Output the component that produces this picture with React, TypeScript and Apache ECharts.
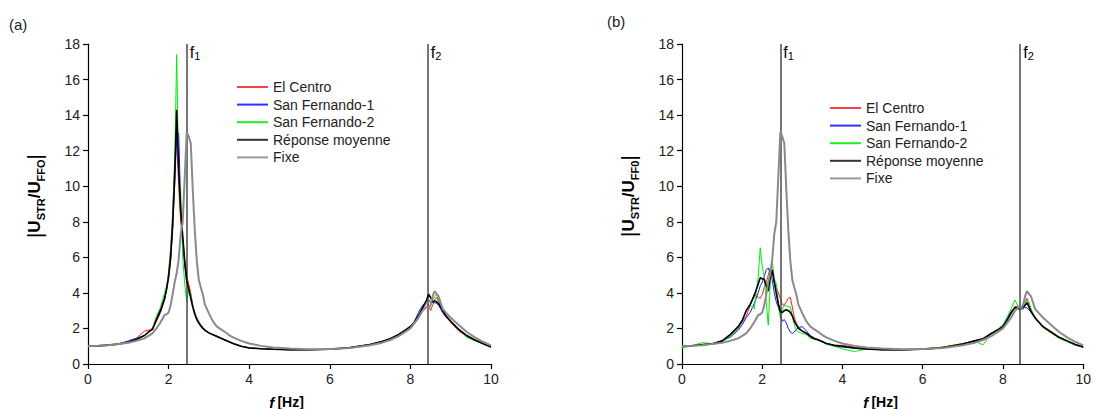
import React, { useEffect, useRef } from "react";
import * as echarts from "echarts";

// Frequency grid (Hz)
const freq = [
  0, 0.25, 0.5, 0.75, 1.0, 1.2, 1.4, 1.5, 1.6, 1.7,
  1.8, 1.9, 1.95, 2.0, 2.05, 2.1, 2.15, 2.2, 2.25, 2.3,
  2.35, 2.4, 2.45, 2.5, 2.55, 2.6, 2.65, 2.7, 2.75, 2.8,
  2.85, 2.9, 3.0, 3.1, 3.2, 3.3, 3.4, 3.5, 3.6, 3.8,
  4.0, 4.3, 4.6, 5.0, 5.5, 6.0, 6.5, 7.0, 7.3, 7.5,
  7.7, 7.9, 8.0, 8.1, 8.2, 8.3, 8.4, 8.45, 8.5, 8.55,
  8.6, 8.65, 8.7, 8.8, 8.9, 9.0, 9.2, 9.4, 9.6, 9.8, 10.0,
];

// Fixed-base response (same in both panels)
const fixe = [
  1.0, 1.02, 1.06, 1.12, 1.2, 1.3, 1.44, 1.58, 1.72, 2.0,
  2.35, 2.75, 2.8, 2.9, 3.3, 3.9, 4.6, 5.1, 5.9, 7.3,
  8.0, 10.5, 13.05, 12.8, 12.4, 9.8, 7.5, 5.8, 4.72, 4.3,
  3.9, 3.35, 2.85, 2.4, 2.1, 1.95, 1.8, 1.63, 1.5, 1.3,
  1.15, 1.02, 0.93, 0.87, 0.83, 0.84, 0.9, 1.05, 1.2, 1.35,
  1.55, 1.85, 2.0, 2.3, 2.6, 3.0, 3.2, 3.15, 3.3, 3.8,
  4.1, 3.95, 3.8, 3.1, 2.85, 2.6, 2.2, 1.8, 1.5, 1.25, 1.05,
];

// Panel (a)
const aElCentro = [
  1.0, 1.02, 1.06, 1.12, 1.25, 1.45, 1.85, 1.9, 2.0, 2.4,
  2.9, 3.6, 4.3, 5.2, 6.5, 8.5, 11.5, 12.6, 10.0, 8.0,
  7.0, 5.8, 4.9, 4.5, 4.0, 3.3, 2.9, 2.6, 2.4, 2.2,
  2.05, 1.95, 1.75, 1.65, 1.58, 1.45, 1.35, 1.25, 1.15, 1.0,
  0.92, 0.86, 0.82, 0.8, 0.8, 0.84, 0.92, 1.1, 1.28, 1.45,
  1.6, 1.9, 2.05, 2.3, 2.75, 3.1, 3.4, 3.3, 3.0, 3.3,
  3.6, 3.75, 3.5, 2.9, 2.6, 2.35, 1.85, 1.55, 1.35, 1.12, 0.95,
];
const aSanFernando1 = [
  1.0, 1.02, 1.06, 1.12, 1.3, 1.45, 1.6, 1.8, 1.95, 2.6,
  3.1, 3.6, 4.2, 4.9, 5.8, 7.6, 10.0, 12.8, 13.0, 9.0,
  7.0, 5.5, 4.6, 4.2, 3.8, 3.3, 2.8, 2.5, 2.3, 2.1,
  2.0, 1.9, 1.75, 1.65, 1.55, 1.45, 1.35, 1.25, 1.15, 1.0,
  0.9, 0.86, 0.83, 0.8, 0.8, 0.82, 0.92, 1.1, 1.27, 1.42,
  1.65, 1.95, 2.1, 2.4, 2.9, 3.3, 3.5, 3.6, 3.5, 3.45,
  3.45, 3.4, 3.3, 2.9, 2.6, 2.4, 1.95, 1.55, 1.35, 1.15, 0.95,
];
const aSanFernando2 = [
  1.0, 1.02, 1.06, 1.12, 1.22, 1.4, 1.6, 1.8, 2.0, 2.7,
  3.2, 4.0, 4.4, 5.0, 6.2, 8.0, 11.0, 17.4, 10.5, 9.8,
  6.0, 4.5, 3.5, 4.2, 3.9, 3.3, 2.85, 2.5, 2.3, 2.15,
  2.0, 1.9, 1.75, 1.65, 1.55, 1.45, 1.35, 1.25, 1.15, 1.0,
  0.9, 0.86, 0.83, 0.8, 0.8, 0.83, 0.92, 1.1, 1.27, 1.42,
  1.62, 1.98, 2.15, 2.35, 2.75, 3.2, 3.55, 3.6, 3.4, 3.6,
  3.8, 3.9, 3.6, 3.0, 2.7, 2.4, 1.95, 1.5, 1.3, 1.15, 0.95,
];
const aMoyenne = [
  1.0, 1.02, 1.06, 1.12, 1.22, 1.38, 1.6, 1.8, 1.95, 2.5,
  3.0, 3.7, 4.2, 4.9, 6.0, 7.8, 10.5, 14.3, 11.0, 8.6,
  7.2, 5.8, 4.7, 4.2, 3.7, 3.2, 2.8, 2.5, 2.3, 2.15,
  2.0, 1.9, 1.75, 1.65, 1.55, 1.45, 1.35, 1.25, 1.15, 1.0,
  0.9, 0.86, 0.83, 0.8, 0.8, 0.83, 0.92, 1.1, 1.27, 1.42,
  1.65, 1.95, 2.1, 2.35, 2.7, 3.15, 3.6, 3.92, 3.75, 3.5,
  3.55, 3.5, 3.4, 3.0, 2.66, 2.4, 1.95, 1.6, 1.35, 1.15, 0.95,
];

// Panel (b)
const bElCentro = [
  1.0, 1.04, 1.1, 1.15, 1.3, 1.6, 2.0, 2.35, 2.7, 3.3,
  3.94, 3.75, 3.7, 3.9, 4.3, 4.6, 5.0, 5.4, 5.1, 4.6,
  4.3, 4.0, 3.7, 3.35, 3.3, 3.5, 3.7, 3.75, 3.2, 2.6,
  2.3, 2.1, 1.85, 1.75, 1.55, 1.45, 1.38, 1.28, 1.15, 1.05,
  1.05, 0.95, 0.85, 0.8, 0.78, 0.85, 0.95, 1.15, 1.3, 1.45,
  1.72, 2.0, 2.2, 2.55, 2.95, 3.2, 3.25, 3.2, 3.35, 3.5,
  3.7, 3.3, 3.0, 2.55, 2.3, 2.05, 1.75, 1.48, 1.28, 1.1, 0.95,
];
const bSanFernando1 = [
  1.0, 1.03, 1.07, 1.12, 1.3, 1.5, 1.9, 2.2, 2.6, 2.9,
  3.4, 4.0, 4.4, 4.6, 4.9, 5.3, 5.4, 5.1, 4.72, 4.0,
  3.5, 3.2, 2.8, 2.4, 2.5, 2.3, 2.0, 1.8, 1.72, 1.8,
  1.95, 2.05, 2.1, 1.85, 1.6, 1.45, 1.35, 1.25, 1.15, 1.0,
  0.95, 0.88, 0.82, 0.8, 0.8, 0.82, 0.9, 1.1, 1.32, 1.4,
  1.72, 1.98, 2.1, 2.6, 2.95, 3.15, 3.1, 3.05, 3.1, 3.2,
  3.15, 3.05, 2.9, 2.6, 2.3, 2.1, 1.8, 1.5, 1.3, 1.1, 0.95,
];
const bSanFernando2 = [
  0.9, 1.02, 1.2, 1.15, 1.25, 1.55, 2.0, 2.4, 3.0, 3.3,
  3.1, 4.9, 6.54, 5.5, 4.9, 3.5, 2.19, 4.5, 5.76, 4.8,
  4.5, 3.5, 2.6, 3.1, 3.3, 3.25, 3.25, 3.2, 2.7, 2.2,
  1.9, 1.8, 1.72, 1.65, 1.45, 1.4, 1.35, 1.25, 1.1, 1.0,
  0.85, 0.7, 0.85, 0.8, 0.82, 0.85, 0.95, 1.15, 1.3, 1.07,
  1.7, 2.0, 2.2, 2.6, 3.1, 3.6, 3.1, 3.04, 3.2, 3.4,
  3.6, 3.45, 3.1, 2.6, 2.3, 2.05, 1.75, 1.45, 1.25, 1.05, 0.95,
];
const bMoyenne = [
  1.0, 1.03, 1.08, 1.13, 1.3, 1.65, 2.1, 2.45, 3.0, 3.35,
  3.85, 4.5, 4.85, 4.8, 4.75, 4.4, 4.1, 4.9, 5.3, 4.6,
  3.97, 3.4, 2.95, 2.9, 3.0, 3.05, 3.0, 2.9, 2.7, 2.4,
  2.2, 2.0, 1.85, 1.72, 1.55, 1.42, 1.35, 1.25, 1.15, 1.05,
  1.0, 0.9, 0.85, 0.8, 0.8, 0.83, 0.93, 1.12, 1.3, 1.4,
  1.7, 1.95, 2.1, 2.45, 2.85, 3.2, 3.1, 3.15, 3.2, 3.3,
  3.45, 3.2, 2.95, 2.6, 2.35, 2.1, 1.8, 1.5, 1.3, 1.1, 0.95,
];

const seriesNames = ["El Centro", "San Fernando-1", "San Fernando-2", "Réponse moyenne", "Fixe"];
const seriesColors = ["#ff1a1a", "#1a1aff", "#00ee00", "#000000", "#8a8a8a"];
const legendColors = ["#ff4040", "#3030ff", "#20ee20", "#333333", "#999999"];
const seriesWidths = [1, 1, 1, 1.6, 2];
const F1 = 2.45;
const F2 = 8.43;
const xTicks = { min: 0, max: 10, interval: 2 };
const yTicks = { min: 0, max: 18, interval: 2 };

const FONT = "'Liberation Sans', Arial, sans-serif";

export default function App() {
  const ref = useRef<HTMLDivElement>(null);
  useEffect(() => {
    if (!ref.current) return;
    const chart = echarts.init(ref.current, undefined, { renderer: "svg" });
    const panels = [
      [aElCentro, aSanFernando1, aSanFernando2, aMoyenne, fixe],
      [bElCentro, bSanFernando1, bSanFernando2, bMoyenne, fixe],
    ];
    const grids = [
      { left: 88, top: 44, width: 403, height: 320 },
      { left: 682, top: 44, width: 403, height: 320 },
    ];
    const axisCommon = {
      axisLine: { show: true, lineStyle: { color: "#000", width: 1.2 } },
      axisTick: { show: true, length: 5, lineStyle: { color: "#000", width: 1.2 } },
      axisLabel: { fontSize: 14, color: "#222", margin: 8, fontFamily: FONT },
      splitLine: { show: false },
    };
    const series: any[] = [];
    panels.forEach((arrs, p) => {
      arrs.forEach((arr, k) => {
        const s: any = {
          name: seriesNames[k],
          type: "line",
          xAxisIndex: p,
          yAxisIndex: p,
          symbol: "none",
          showSymbol: false,
          data: freq.map((f, i) => [f, arr[i]]),
          lineStyle: { color: seriesColors[k], width: seriesWidths[k] },
          itemStyle: { color: legendColors[k] },
          z: 2 + k,
        };
        if (k === 0) {
          s.markLine = {
            silent: true,
            symbol: ["none", "none"],
            label: { show: false },
            lineStyle: { color: "#4a4a4a", width: 1.5, type: "solid" },
            data: [{ xAxis: F1 }, { xAxis: F2 }],
          };
        }
        series.push(s);
      });
    });
    const legendCommon = {
      orient: "vertical",
      icon: "rect",
      padding: 0,
      itemWidth: 31,
      itemHeight: 2,
      itemGap: 3.6,
      itemTextGap: 6,
      textStyle: { fontSize: 14, color: "#222", fontFamily: FONT, lineHeight: 14 },
      data: seriesNames,
      selectedMode: false,
    };
    chart.setOption({
      animation: false,
      backgroundColor: "#fff",
      grid: grids,
      xAxis: grids.map((_, i) => ({ type: "value", gridIndex: i, ...xTicks, ...axisCommon })),
      yAxis: grids.map((_, i) => ({ type: "value", gridIndex: i, ...yTicks, ...axisCommon })),
      legend: [
        { ...legendCommon, left: 237, top: 80 },
        { ...legendCommon, left: 830, top: 101 },
      ],
      series,
    });

    const graphics: any[] = [];
    const richY = {
      bar: { fontSize: 21, fontWeight: "normal", color: "#444", lineHeight: 24, fontFamily: FONT },
      u: { fontSize: 17, fontWeight: "bold", color: "#111", lineHeight: 24, fontFamily: FONT },
      sub: { fontSize: 11, fontWeight: "bold", color: "#111", lineHeight: 10, verticalAlign: "bottom", fontFamily: FONT },
    };
    const richF = {
      f: { fontSize: 16, color: "#111", lineHeight: 18, fontFamily: FONT },
      s: { fontSize: 11, color: "#111", lineHeight: 9, verticalAlign: "bottom", fontFamily: FONT },
    };
    const subs = ["FFO", "FF0"];
    const tags = ["(a)", "(b)"];
    [0, 1].forEach((p) => {
      const g = grids[p];
      const top = chart.convertToPixel({ gridIndex: p }, [F1, yTicks.max]) as number[];
      const top2 = chart.convertToPixel({ gridIndex: p }, [F2, yTicks.max]) as number[];
      graphics.push({
        type: "text", x: top[0] + 3, y: top[1] - 1,
        style: { text: "{f|f}{s|1}", rich: richF, align: "left", verticalAlign: "top" },
      });
      graphics.push({
        type: "text", x: top2[0] + 3, y: top2[1] - 1,
        style: { text: "{f|f}{s|2}", rich: richF, align: "left", verticalAlign: "top" },
      });
      graphics.push({
        type: "text", x: g.left - 54, y: 196, rotation: Math.PI / 2,
        style: {
          text: `{bar||}{u|U}{sub|STR}{u|/U}{sub|${subs[p]}}{bar||}`,
          rich: richY, align: "center", verticalAlign: "middle",
        },
      });
      graphics.push({
        type: "text", x: g.left + g.width / 2 - 3, y: 402,
        style: {
          text: "{i|f} {b|[Hz]}",
          rich: {
            i: { fontSize: 15, fontWeight: "bold", fontStyle: "italic", color: "#111", fontFamily: FONT },
            b: { fontSize: 14, fontWeight: "bold", color: "#111", fontFamily: FONT },
          },
          align: "center", verticalAlign: "middle",
        },
      });
      graphics.push({
        type: "text", x: p === 0 ? 9 : 607, y: p === 0 ? 17 : 14,
        style: { text: tags[p], fontSize: 15, fill: "#222", fontFamily: FONT, align: "left", verticalAlign: "top" },
      });
    });
    chart.setOption({ graphic: graphics });
    return () => chart.dispose();
  }, []);
  return <div ref={ref} style={{ position: "absolute", left: 0, top: 0, width: 1094, height: 409 }} />;
}
